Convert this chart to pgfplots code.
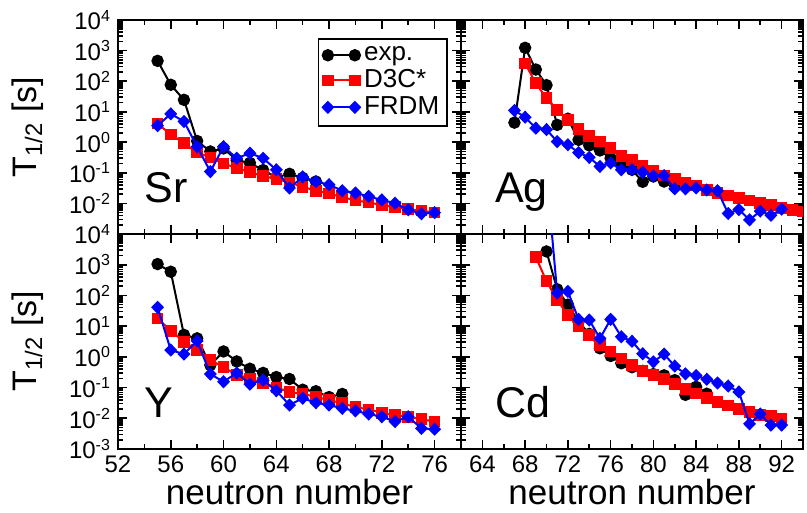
\documentclass[border=0pt]{standalone}
\usepackage{pgfplots}
\pgfplotsset{compat=1.18}
\usepackage{fontspec}
\setmainfont{Liberation Sans}
\definecolor{myred}{RGB}{255,0,0}
\definecolor{myblue}{RGB}{0,0,255}
\pgfplotsset{
  mypanel/.style={
    scale only axis, width=171.5pt, height=107pt,
    ymin=1e-3, ymax=1e4,
    clip marker paths=true,
    /pgf/number format/assume math mode=true,
    axis line style={line width=1pt},
    every tick/.style={black, line width=0.8pt},
    major tick length=4.5pt, minor tick length=2.5pt,
    tick align=inside, xtick pos=both, ytick pos=both,
    ytick={1e-3,1e-2,1e-1,1,1e1,1e2,1e3,1e4},
    minor ytick={2e-3,3e-3,4e-3,5e-3,6e-3,7e-3,8e-3,9e-3,
      2e-2,3e-2,4e-2,5e-2,6e-2,7e-2,8e-2,9e-2,
      0.2,0.3,0.4,0.5,0.6,0.7,0.8,0.9,
      2,3,4,5,6,7,8,9,20,30,40,50,60,70,80,90,
      200,300,400,500,600,700,800,900,
      2000,3000,4000,5000,6000,7000,8000,9000},
    tick label style={font=\fontsize{12}{14}\selectfont},
    legend image code/.code={\draw[##1] plot coordinates {(0pt,0pt) (13.5pt,0pt)};},
  },
  myleft/.style={xmin=52, xmax=78, xtick={52,56,60,64,68,72,76}, minor xtick={54,58,62,66,70,74,78}},
  myright/.style={xmin=62, xmax=94, xtick={64,68,72,76,80,84,88,92}, minor xtick={62,66,70,74,78,82,86,90,94}, yticklabels={}},
  expst/.style={black, line width=1pt, mark=*, mark size=2.6pt},
  dstyle/.style={myred, line width=1pt, mark=square*, mark size=2.4pt},
  fstyle/.style={myblue, line width=1pt, mark=diamond*, mark size=2.6pt, mark options={xscale=1.3}},
}
\begin{document}
\begin{tikzpicture}
\useasboundingbox (0,0) rectangle (403.5pt,256.5pt);
% ---------------- Sr ----------------
\begin{axis}[ymode=log, mypanel, myleft, at={(59pt,139.5pt)}, anchor=south west,
  xticklabels={},
  yticklabels={,10\textsuperscript{-2},10\textsuperscript{-1},10\textsuperscript{0},10\textsuperscript{1},10\textsuperscript{2},10\textsuperscript{3},10\textsuperscript{4}},
  legend style={at={(0.962,0.916)}, anchor=north east, draw=black, line width=0.8pt,
    font=\fontsize{13}{15}\selectfont, inner sep=2pt, row sep=-1pt, cells={anchor=west}},
  legend cell align=left]
\addplot[expst] coordinates {(55,460) (56,76) (57,24.5) (58,1.1) (59,0.50) (60,0.63) (61,0.26) (62,0.21) (63,0.123) (64,0.071) (65,0.093) (66,0.068) (67,0.052)};
\addlegendentry{exp.}
\addplot[dstyle] coordinates {(55,4.1) (56,1.8) (57,0.93) (58,0.46) (59,0.32) (60,0.20) (61,0.145) (62,0.105) (63,0.079) (64,0.063) (65,0.048) (66,0.035) (67,0.026) (68,0.021) (69,0.016) (70,0.0126) (71,0.0107) (72,0.0089) (73,0.0076) (74,0.0065) (75,0.0058) (76,0.0050)};
\addlegendentry{D3C*}
\addplot[fstyle] coordinates {(55,3.5) (56,8.5) (57,4.8) (58,0.72) (59,0.11) (60,0.72) (61,0.30) (62,0.44) (63,0.30) (64,0.126) (65,0.032) (66,0.074) (67,0.052) (68,0.041) (69,0.026) (70,0.022) (71,0.017) (72,0.013) (73,0.0102) (74,0.0062) (75,0.0046) (76,0.0050)};
\addlegendentry{FRDM}
\node[anchor=base west, font=\fontsize{21.5}{24}\selectfont] at (rel axis cs:0.058,0.145) {Sr};
\end{axis}
% ---------------- Ag ----------------
\begin{axis}[ymode=log, mypanel, myright, at={(230.5pt,139.5pt)}, anchor=south west, width=171pt, xticklabels={}]
\addplot[expst] coordinates {(67,4.4) (68,1230) (69,240) (70,74) (71,3.7) (72,5.9) (73,1.2) (74,0.79) (75,0.54) (76,0.30) (77,0.18) (78,0.126) (79,0.051) (80,0.076) (81,0.052) (82,0.041)};
\addplot[dstyle] coordinates {(68,380) (69,85) (70,27.5) (71,11.5) (72,5.4) (73,2.7) (74,1.6) (75,1.05) (76,0.65) (77,0.36) (78,0.26) (79,0.174) (80,0.12) (81,0.083) (82,0.062) (83,0.049) (84,0.039) (85,0.0275) (86,0.0224) (87,0.018) (88,0.0148) (89,0.0123) (90,0.0102) (91,0.0087) (92,0.0071) (93,0.0062) (94,0.0055)};
\addplot[fstyle] coordinates {(67,11) (68,6.6) (69,2.9) (70,2.6) (71,1.05) (72,0.83) (73,0.46) (74,0.32) (75,0.162) (76,0.21) (77,0.126) (78,0.126) (79,0.105) (80,0.079) (81,0.081) (82,0.030) (83,0.030) (84,0.032) (85,0.0275) (86,0.026) (87,0.0047) (88,0.0063) (89,0.0029) (90,0.0056) (91,0.0041) (92,0.0065)};
\node[anchor=base west, font=\fontsize{21.5}{24}\selectfont] at (rel axis cs:0.079,0.145) {Ag};
\end{axis}
% ---------------- Y ----------------
\begin{axis}[ymode=log, mypanel, myleft, at={(59pt,32pt)}, anchor=south west, height=107.5pt,
  yticklabels={10\textsuperscript{-3},10\textsuperscript{-2},10\textsuperscript{-1},10\textsuperscript{0},10\textsuperscript{1},10\textsuperscript{2},10\textsuperscript{3},10\textsuperscript{4}}]
\addplot[expst] coordinates {(55,1050) (56,590) (57,5.2) (58,4.0) (59,0.54) (60,1.5) (61,0.71) (62,0.41) (63,0.30) (64,0.22) (65,0.19) (66,0.085) (67,0.076) (68,0.049) (69,0.062)};
\addplot[dstyle] coordinates {(55,17.8) (56,7.1) (57,3.1) (58,1.66) (59,0.79) (60,0.46) (61,0.26) (62,0.20) (63,0.138) (64,0.102) (65,0.072) (66,0.062) (67,0.050) (68,0.039) (69,0.031) (70,0.023) (71,0.0195) (72,0.0151) (73,0.0126) (74,0.0112) (75,0.0093) (76,0.0078)};
\addplot[fstyle] coordinates {(55,41) (56,1.66) (57,1.23) (58,3.3) (59,0.275) (60,0.155) (61,0.30) (62,0.129) (63,0.174) (64,0.079) (65,0.027) (66,0.045) (67,0.032) (68,0.027) (69,0.021) (70,0.0174) (71,0.0138) (72,0.0112) (73,0.0078) (74,0.0112) (75,0.0047) (76,0.0044)};
\node[anchor=base west, font=\fontsize{21.5}{24}\selectfont] at (rel axis cs:0.058,0.145) {Y};
\end{axis}
% ---------------- Cd ----------------
\begin{axis}[ymode=log, mypanel, myright, at={(230.5pt,32pt)}, anchor=south west, width=171pt, height=107.5pt]
\addplot[expst] coordinates {(70,2700) (71,158) (72,50) (73,14) (74,5.6) (75,1.9) (76,1.07) (77,0.62) (78,0.46) (79,0.35) (80,0.275) (81,0.25) (82,0.174) (83,0.058) (84,0.105) (85,0.063)};
\addplot[dstyle] coordinates {(69,1780) (70,290) (71,71) (72,23) (73,10) (74,5.1) (75,2.4) (76,1.48) (77,0.89) (78,0.54) (79,0.35) (80,0.26) (81,0.186) (82,0.132) (83,0.089) (84,0.065) (85,0.045) (86,0.034) (87,0.026) (88,0.020) (89,0.0162) (90,0.0126) (91,0.0117) (92,0.0095)};
\addplot[fstyle] coordinates {(70,1e6) (71,120) (72,135) (73,16.6) (74,15.8) (75,4.0) (76,16.6) (77,4.5) (78,3.2) (79,1.26) (80,0.69) (81,1.23) (82,0.50) (83,0.28) (84,0.245) (85,0.186) (86,0.141) (87,0.112) (88,0.072) (89,0.0066) (90,0.0138) (91,0.0060) (92,0.0060)};
\node[anchor=base west, font=\fontsize{21.5}{24}\selectfont] at (rel axis cs:0.079,0.145) {Cd};
\end{axis}
% ---------------- labels ----------------
\node[rotate=90, font=\fontsize{17}{19}\selectfont] at (14pt,193pt) {T\textsubscript{1/2} [s]};
\node[rotate=90, font=\fontsize{17}{19}\selectfont] at (14pt,86pt) {T\textsubscript{1/2} [s]};
\node[anchor=base, font=\fontsize{17.5}{20}\selectfont] at (144.75pt,4.5pt) {neutron number};
\node[anchor=base, font=\fontsize{17.5}{20}\selectfont] at (316pt,4.5pt) {neutron number};
\end{tikzpicture}
\end{document}
